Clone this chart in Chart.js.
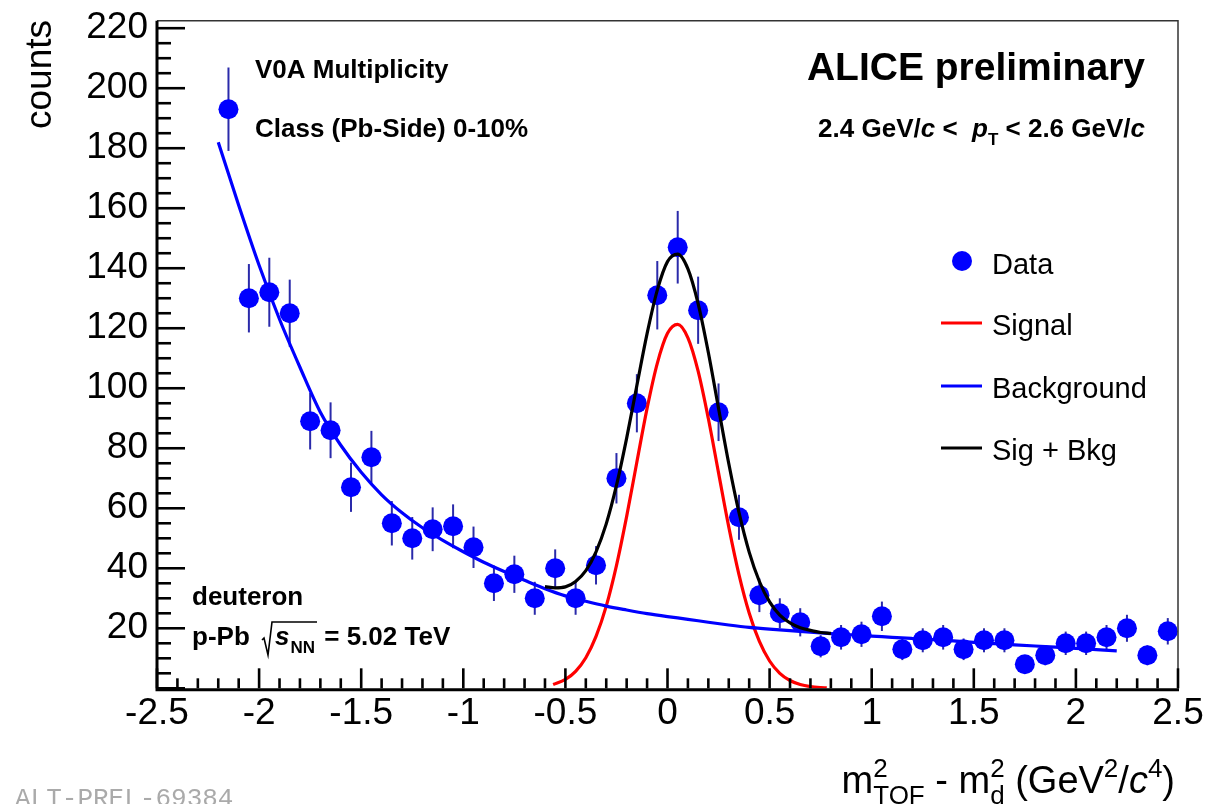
<!DOCTYPE html>
<html>
<head>
<meta charset="utf-8">
<script src="https://cdn.jsdelivr.net/npm/chart.js@4.4.1/dist/chart.umd.min.js"></script>
<style>
  html, body { margin: 0; padding: 0; background: #ffffff; }
  #wrap { position: relative; width: 1207px; height: 804px; overflow: hidden; }
  canvas { display: block; }
</style>
</head>
<body>
<div id="wrap"><canvas id="c" width="1207" height="804"></canvas></div>
<script>
// ---------------- data ----------------
const X_CENTERS = [-2.15, -2.05, -1.95, -1.85, -1.75, -1.65, -1.55, -1.45, -1.35, -1.25,
  -1.15, -1.05, -0.95, -0.85, -0.75, -0.65, -0.55, -0.45, -0.35, -0.25,
  -0.15, -0.05, 0.05, 0.15, 0.25, 0.35, 0.45, 0.55, 0.65, 0.75,
  0.85, 0.95, 1.05, 1.15, 1.25, 1.35, 1.45, 1.55, 1.65, 1.75,
  1.85, 1.95, 2.05, 2.15, 2.25, 2.35, 2.45];
const COUNTS = [193, 130, 132, 125, 89, 86, 67, 77, 55, 50,
  53, 54, 47, 35, 38, 30, 40, 30, 41, 70,
  95, 131, 147, 126, 92, 57, 31, 25, 22, 14,
  17, 18, 24, 13, 16, 17, 13, 16, 16, 8,
  11, 15, 15, 17, 20, 11, 19];
const ERRORS = [13.9, 11.4, 11.5, 11.2, 9.4, 9.3, 8.2, 8.8, 7.4, 7.1,
  7.3, 7.3, 6.9, 5.9, 6.2, 5.5, 6.3, 5.5, 6.4, 8.4,
  9.7, 11.4, 12.1, 11.2, 9.6, 7.5, 5.6, 5.0, 4.7, 3.7,
  4.1, 4.2, 4.9, 3.6, 4.0, 4.1, 3.6, 4.0, 4.0, 2.8,
  3.3, 3.9, 3.9, 4.1, 4.5, 3.3, 4.4];

const BKG_X = [-2.2, -2.1, -2.0, -1.9, -1.8, -1.7, -1.6, -1.5, -1.4, -1.3, -1.2, -1.1, -1.0,
  -0.9, -0.8, -0.7, -0.6, -0.5, -0.4, -0.3, -0.2, -0.1, 0.0, 0.1, 0.2, 0.3, 0.4, 0.5,
  0.6, 0.7, 0.8, 0.9, 1.0, 1.1, 1.2, 1.3, 1.4, 1.5, 1.6, 1.7, 1.8, 1.9, 2.0, 2.1, 2.2];
const BKG_Y = [182, 161, 141, 123, 107, 92, 81, 72, 64.5, 58.5, 53.5, 49.3, 45.5,
  42, 38.9, 36, 33.2, 30.8, 29, 27.4, 26.1, 24.9, 23.9, 23, 22, 21.1, 20.3, 19.7,
  19.2, 18.7, 18.2, 17.8, 17.4, 17.0, 16.6, 16.2, 15.8, 15.3, 14.9, 14.5, 14.1, 13.7, 13.3, 12.9, 12.5];

const SIG_X = [-0.56, -0.5, -0.45, -0.4, -0.35, -0.3, -0.25, -0.2, -0.15, -0.1, -0.05, 0.0,
  0.05, 0.1, 0.15, 0.2, 0.25, 0.3, 0.35, 0.4, 0.45, 0.5, 0.55, 0.6, 0.65, 0.7, 0.75, 0.78];
const SIG_Y = [1.25, 2.96, 5.67, 10.2, 17.3, 27.4, 40.9, 57.3, 75.4, 93.3, 108.3, 118.3,
  121.3, 116.8, 105.7, 89.9, 71.8, 53.8, 37.9, 25.1, 15.6, 9.1, 5.0, 2.6, 1.25, 0.57, 0.24, 0.14];

const TOT_X = [-0.6, -0.55, -0.5, -0.45, -0.4, -0.35, -0.3, -0.25, -0.2, -0.15, -0.1, -0.05, 0.0,
  0.05, 0.1, 0.15, 0.2, 0.25, 0.3, 0.35, 0.4, 0.45, 0.5, 0.55, 0.6, 0.65, 0.7, 0.75, 0.8];
const TOT_Y = [33.9, 33.5, 33.8, 35.6, 39.2, 45.5, 54.8, 67.6, 83.4, 100.9, 118.2, 132.7, 142.2,
  144.7, 139.8, 128.2, 111.9, 93.3, 74.9, 58.6, 45.4, 35.6, 28.8, 24.4, 21.8, 20.2, 19.3, 18.6, 18.3];

const X_TICKS = [-2.5, -2, -1.5, -1, -0.5, 0, 0.5, 1, 1.5, 2, 2.5];
const X_TICK_LABELS = ['-2.5', '-2', '-1.5', '-1', '-0.5', '0', '0.5', '1', '1.5', '2', '2.5'];
const Y_TICKS = [20, 40, 60, 80, 100, 120, 140, 160, 180, 200, 220];
const Y_TICK_LABELS = ['20', '40', '60', '80', '100', '120', '140', '160', '180', '200', '220'];

const LEGEND_LABELS = ['Data', 'Signal', 'Background', 'Sig + Bkg'];
// ---------------------------------------------------------------

const FONT = "'Liberation Sans', Arial, Helvetica, sans-serif";
const BLUE = '#0000ff';
const ERR_COLOR = '#2a2aaa';

function pts(xs, ys) { return xs.map((x, i) => ({ x: x, y: ys[i] })); }

// draw a sequence of text parts; a part may be {stack:[...]} for sup/sub pairs
function drawRich(ctx, parts, x, y, align) {
  let total = 0;
  const widths = parts.map(p => {
    let w;
    if (p.stack) {
      w = Math.max.apply(null, p.stack.map(s => { ctx.font = s.font; return ctx.measureText(s.text).width; }));
    } else {
      ctx.font = p.font; w = ctx.measureText(p.text).width;
    }
    w += (p.gap || 0);
    total += w; return w;
  });
  let cx = align === 'right' ? x - total : x;
  ctx.textAlign = 'left';
  ctx.textBaseline = 'alphabetic';
  parts.forEach((p, i) => {
    if (p.stack) {
      p.stack.forEach(s => { ctx.font = s.font; ctx.fillText(s.text, cx, y + (s.dy || 0)); });
    } else {
      ctx.font = p.font; ctx.fillText(p.text, cx + (p.offset || 0), y + (p.dy || 0));
    }
    cx += widths[i];
  });
  return total;
}

const framePlugin = {
  id: 'frame',
  beforeDatasetDraw(chart, args) {
    if (args.index !== 0) return;
    const ctx = chart.ctx, xs = chart.scales.x, ys = chart.scales.y;
    ctx.save();
    ctx.strokeStyle = ERR_COLOR;
    ctx.lineWidth = 2;
    X_CENTERS.forEach((xv, i) => {
      const px = xs.getPixelForValue(xv);
      const y1 = ys.getPixelForValue(COUNTS[i] - ERRORS[i]);
      const y2 = ys.getPixelForValue(COUNTS[i] + ERRORS[i]);
      ctx.beginPath(); ctx.moveTo(px, y1); ctx.lineTo(px, y2); ctx.stroke();
    });
    ctx.restore();
  },
  afterDraw(chart) {
    const ctx = chart.ctx, xs = chart.scales.x, ys = chart.scales.y;
    const a = chart.chartArea;
    ctx.save();
    // frame top and right
    ctx.strokeStyle = '#333333';
    ctx.lineWidth = 1.5;
    ctx.beginPath();
    ctx.moveTo(a.left, a.top); ctx.lineTo(a.right, a.top); ctx.lineTo(a.right, a.bottom);
    ctx.stroke();
    // axes
    ctx.strokeStyle = '#000000';
    ctx.lineWidth = 3;
    ctx.beginPath();
    ctx.moveTo(a.left, a.top); ctx.lineTo(a.left, a.bottom + 1.5); ctx.lineTo(a.right + 1, a.bottom + 1.5);
    ctx.stroke();
    // x ticks (inward)
    ctx.lineWidth = 2.6;
    for (let k = -25; k <= 25; k++) {
      const v = k / 10;
      const px = xs.getPixelForValue(v);
      const len = (k % 5 === 0) ? 20 : 10;
      ctx.beginPath(); ctx.moveTo(px, a.bottom); ctx.lineTo(px, a.bottom - len); ctx.stroke();
    }
    // y ticks (inward)
    for (let k = 0; k <= 44; k++) {
      const v = k * 5;
      const py = ys.getPixelForValue(v);
      const len = (k % 4 === 0) ? 28 : 14;
      ctx.beginPath(); ctx.moveTo(a.left, py); ctx.lineTo(a.left + len, py); ctx.stroke();
    }

    ctx.fillStyle = '#000000';
    // y axis title
    ctx.save();
    ctx.translate(51, 20);
    ctx.rotate(-Math.PI / 2);
    ctx.font = '37px ' + FONT;
    ctx.textAlign = 'right';
    ctx.textBaseline = 'alphabetic';
    ctx.fillText('counts', 0, 0);
    ctx.restore();

    // x axis title
    const F = '38px ' + FONT, S = '26px ' + FONT, FI = 'italic 38px ' + FONT;
    drawRich(ctx, [
      { text: 'm', font: F },
      { stack: [{ text: '2', font: S, dy: -16 }, { text: 'TOF', font: S, dy: 11 }] },
      { text: ' - m', font: F },
      { stack: [{ text: '2', font: S, dy: -16 }, { text: 'd', font: S, dy: 11 }] },
      { text: ' (GeV', font: F },
      { text: '2', font: S, dy: -16 },
      { text: '/', font: F },
      { text: 'c', font: FI },
      { text: '4', font: S, dy: -16 },
      { text: ')', font: F }
    ], 1175, 793, 'right');

    // annotations
    const B = 'bold 26px ' + FONT, BI = 'bold italic 26px ' + FONT, BS = 'bold 17px ' + FONT;
    ctx.font = B; ctx.textAlign = 'left'; ctx.textBaseline = 'alphabetic';
    ctx.fillText('V0A Multiplicity', 255, 78);
    ctx.fillText('Class (Pb-Side) 0-10%', 255, 137);
    ctx.fillText('deuteron', 192, 605);

    // p-Pb sqrt(s_NN) = 5.02 TeV
    ctx.font = B;
    ctx.fillText('p-Pb', 192, 645);
    const rx = 262;
    ctx.font = BI; const sw = ctx.measureText('s').width;
    ctx.font = BS; const nnw = ctx.measureText('NN').width;
    ctx.font = BI; ctx.fillText('s', rx + 13, 645);
    ctx.font = BS; ctx.fillText('NN', rx + 13 + sw + 1, 653);
    const endOver = rx + 13 + sw + 1 + nnw + 2;
    ctx.strokeStyle = '#000'; ctx.lineWidth = 1.6;
    ctx.beginPath();
    ctx.moveTo(rx, 640); ctx.lineTo(rx + 2, 638); ctx.lineTo(rx + 6, 655); ctx.lineTo(rx + 10, 622); ctx.lineTo(endOver, 622);
    ctx.stroke();
    ctx.font = B; ctx.fillText(' = 5.02 TeV', endOver, 645);

    ctx.font = 'bold 39px ' + FONT; ctx.textAlign = 'right';
    ctx.fillText('ALICE preliminary', 1145, 80);

    drawRich(ctx, [
      { text: '2.4 GeV/', font: B },
      { text: 'c', font: BI },
      { text: ' <  ', font: B },
      { text: 'p', font: BI },
      { text: 'T', font: BS, dy: 8 },
      { text: ' < 2.6 GeV/', font: B },
      { text: 'c', font: BI }
    ], 1145, 137, 'right');

    // legend
    ctx.fillStyle = BLUE;
    ctx.beginPath(); ctx.arc(962, 261, 10, 0, Math.PI * 2); ctx.fill();
    const lineCols = ['#ff0000', BLUE, '#000000'];
    const lineYs = [323, 386, 448];
    ctx.lineWidth = 3;
    lineCols.forEach((c, i) => {
      ctx.strokeStyle = c;
      ctx.beginPath(); ctx.moveTo(941, lineYs[i]); ctx.lineTo(982, lineYs[i]); ctx.stroke();
    });
    ctx.fillStyle = '#000000';
    ctx.font = '29px ' + FONT; ctx.textAlign = 'left'; ctx.textBaseline = 'middle';
    const textYs = [266, 327, 390, 452];
    LEGEND_LABELS.forEach((t, i) => ctx.fillText(t, 992, textYs[i]));

    // watermark
    ctx.fillStyle = '#aaaaaa';
    ctx.font = "26px 'Liberation Mono', 'DejaVu Sans Mono', monospace";
    ctx.textBaseline = 'alphabetic';
    ctx.fillText('ALT-PREL-69384', 15, 806);
    ctx.restore();
  }
};

const chart = new Chart(document.getElementById('c'), {
  type: 'scatter',
  data: {
    datasets: [
      { label: 'Data', data: pts(X_CENTERS, COUNTS), showLine: false,
        pointRadius: 10, pointHoverRadius: 10, pointBackgroundColor: BLUE, pointBorderWidth: 0,
        borderColor: BLUE, order: 10 },
      { label: 'Signal', data: pts(SIG_X, SIG_Y), showLine: true, pointRadius: 0,
        borderColor: '#ff0000', borderWidth: 3.2, cubicInterpolationMode: 'monotone', order: 3 },
      { label: 'Background', data: pts(BKG_X, BKG_Y), showLine: true, pointRadius: 0,
        borderColor: BLUE, borderWidth: 3.2, cubicInterpolationMode: 'monotone', order: 2 },
      { label: 'Sig + Bkg', data: pts(TOT_X, TOT_Y), showLine: true, pointRadius: 0,
        borderColor: '#000000', borderWidth: 3.2, cubicInterpolationMode: 'monotone', order: 1 }
    ]
  },
  options: {
    responsive: false,
    animation: false,
    devicePixelRatio: 1,
    layout: { padding: { left: 0, right: 29, top: 20.7, bottom: 0 } },
    plugins: { legend: { display: false }, tooltip: { enabled: false } },
    scales: {
      x: {
        type: 'linear', min: -2.5, max: 2.5,
        grid: { display: false, drawTicks: false },
        border: { display: false },
        afterBuildTicks: (s) => { s.ticks = X_TICKS.map(v => ({ value: v })); },
        afterFit: (s) => { s.height = 115.7; s.paddingLeft = 0; s.paddingRight = 0; },
        ticks: {
          autoSkip: false, maxRotation: 0, minRotation: 0, padding: 3, color: '#000000',
          font: { family: FONT, size: 37 },
          callback: (v, i) => X_TICK_LABELS[i]
        }
      },
      y: {
        type: 'linear', min: 0, max: 222.5,
        grid: { display: false, drawTicks: false },
        border: { display: false },
        afterBuildTicks: (s) => { s.ticks = Y_TICKS.map(v => ({ value: v })); },
        afterFit: (s) => { s.width = 157; s.paddingTop = 0; s.paddingBottom = 0; },
        ticks: {
          autoSkip: false, padding: 9, color: '#000000',
          font: { family: FONT, size: 37 },
          callback: (v, i) => Y_TICK_LABELS[i]
        }
      }
    }
  },
  plugins: [framePlugin]
});
</script>
</body>
</html>
